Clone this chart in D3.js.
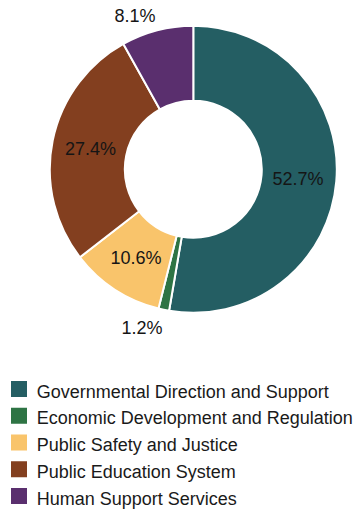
<!DOCTYPE html>
<html>
<head>
<meta charset="utf-8">
<script src="https://cdn.jsdelivr.net/npm/d3@7"></script>
<style>
  html, body { margin: 0; padding: 0; background: #fff; }
  svg { display: block; font-family: "Liberation Sans", Arial, sans-serif; }
</style>
</head>
<body>
<svg id="chart" width="358" height="512"></svg>
<script>
// Budget share by service area (percent of total)
const categories = [
  "Governmental Direction and Support",
  "Economic Development and Regulation",
  "Public Safety and Justice",
  "Public Education System",
  "Human Support Services"
];
const shares = [52.7, 1.2, 10.6, 27.4, 8.1];
const colors = ["#245e63", "#2e7444", "#f9c46b", "#833f1f", "#5a2f6e"];

const width = 358, height = 512;
const cx = 193.3, cy = 169.3;
const outerR = 143.5, innerR = 68.5;

const svg = d3.select("#chart");
const data = categories.map((c, i) => ({ name: c, value: shares[i], color: colors[i] }));

const pie = d3.pie().value(d => d.value).sort(null);
const arcs = pie(data);

const arc = d3.arc().innerRadius(innerR).outerRadius(outerR);
const labelArc = d3.arc().innerRadius(105).outerRadius(105);
const outsideArc = d3.arc().innerRadius(150).outerRadius(150);

const g = svg.append("g").attr("transform", `translate(${cx},${cy})`);

g.selectAll("path.slice")
  .data(arcs)
  .join("path")
  .attr("class", "slice")
  .attr("d", arc)
  .attr("fill", d => d.data.color)
  .attr("stroke", "#fff")
  .attr("stroke-width", 2)
  .attr("stroke-linejoin", "round");

const fmt = v => v.toFixed(1) + "%";

// Large slices: label inside the ring
g.selectAll("text.inside")
  .data(arcs.filter(d => d.data.value >= 10))
  .join("text")
  .attr("class", "inside")
  .attr("transform", d => `translate(${labelArc.centroid(d)})`)
  .attr("text-anchor", "middle")
  .attr("dy", "0.35em")
  .attr("font-size", 18)
  .attr("fill", "#151515")
  .text(d => fmt(d.data.value));

// Small slices: label just outside the ring
g.selectAll("text.outside")
  .data(arcs.filter(d => d.data.value < 10))
  .join("text")
  .attr("class", "outside")
  .attr("transform", d => `translate(${outsideArc.centroid(d)})`)
  .attr("text-anchor", d => ((d.startAngle + d.endAngle) / 2 > Math.PI ? "end" : "start"))
  .attr("dy", d => {
    const a = (d.startAngle + d.endAngle) / 2;
    return Math.cos(a) > 0 ? "-0.12em" : "1em";
  })
  .attr("font-size", 18)
  .attr("fill", "#151515")
  .text(d => fmt(d.data.value));

// Legend
const legend = svg.append("g").attr("transform", "translate(11,381)");
const rowH = 26.75;
const rows = legend.selectAll("g.row")
  .data(data)
  .join("g")
  .attr("class", "row")
  .attr("transform", (d, i) => `translate(0,${i * rowH})`);

rows.append("rect")
  .attr("width", 16)
  .attr("height", 16)
  .attr("fill", d => d.color);

rows.append("text")
  .attr("x", 25.7)
  .attr("y", 16.5)
  .attr("font-size", 18)
  .attr("fill", "#1a1a1a")
  .text(d => d.name);
</script>
</body>
</html>
